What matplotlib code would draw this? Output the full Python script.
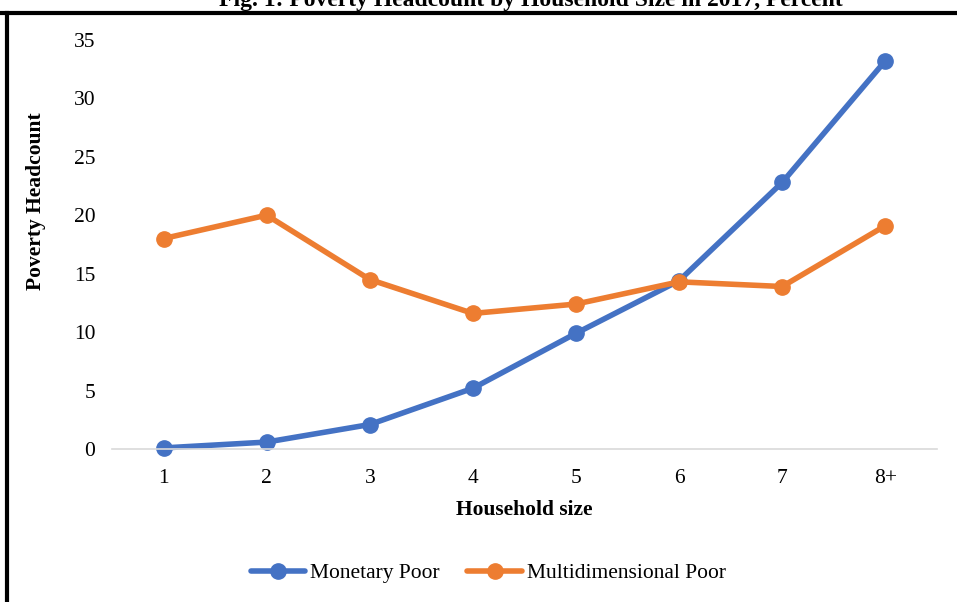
import matplotlib.pyplot as plt
from matplotlib.lines import Line2D

# Daten
household_sizes = ["1", "2", "3", "4", "5", "6", "7", "8+"]
monetary_poor = [0.1, 0.6, 2.1, 5.2, 9.9, 14.4, 22.8, 33.2]
multidim_poor = [18.0, 20.0, 14.5, 11.6, 12.4, 14.3, 13.9, 19.1]

BLUE = "#4472C4"
ORANGE = "#ED7D31"

plt.rcParams["font.family"] = ["Liberation Serif", "DejaVu Serif"]

fig = plt.figure(figsize=(9.57, 6.02), dpi=100)
ax = fig.add_axes([0.117, 0.254, 0.862, 0.680])

x = list(range(len(household_sizes)))
ax.plot(x, monetary_poor, color=BLUE, lw=4, marker="o", ms=11,
        label="Monetary Poor", solid_capstyle="round")
ax.plot(x, multidim_poor, color=ORANGE, lw=4, marker="o", ms=11,
        label="Multidimensional Poor", solid_capstyle="round")

ax.set_xlim(-0.5, len(household_sizes) - 0.5)
ax.set_ylim(0, 35)
ax.set_yticks(range(0, 36, 5))
ax.set_xticks(x)
ax.set_xticklabels(household_sizes)
ax.tick_params(axis="both", length=0, labelsize=15.5)
ax.tick_params(axis="y", pad=12)
ax.tick_params(axis="x", pad=14)

for side in ["top", "right", "left"]:
    ax.spines[side].set_visible(False)
ax.spines["bottom"].set_color("#d9d9d9")
ax.spines["bottom"].set_linewidth(1.2)
for line in ax.lines:
    line.set_clip_on(False)

ax.set_xlabel("Household size", fontsize=15.5, fontweight="bold", labelpad=9)
ax.set_ylabel("Poverty Headcount", fontsize=15.5, fontweight="bold")
ax.yaxis.set_label_coords(-0.08, 0.605)

fig.legend(loc="center", bbox_to_anchor=(0.51, 0.048), ncol=2, frameon=False,
           fontsize=15.5, handlelength=2.55, handletextpad=0.2, columnspacing=1.3)

# Rahmen und abgeschnittener Titel
fig.add_artist(Line2D([0, 1], [0.979, 0.979], transform=fig.transFigure,
                      color="black", lw=3))
fig.add_artist(Line2D([0.0073, 0.0073], [0, 0.979], transform=fig.transFigure,
                      color="black", lw=3))
fig.text(0.555, 0.99, "Fig. 1: Poverty Headcount by Household Size in 2017, Percent",
         ha="center", va="baseline", fontsize=17, fontweight="bold")

fig.savefig("out.png", dpi=100)
